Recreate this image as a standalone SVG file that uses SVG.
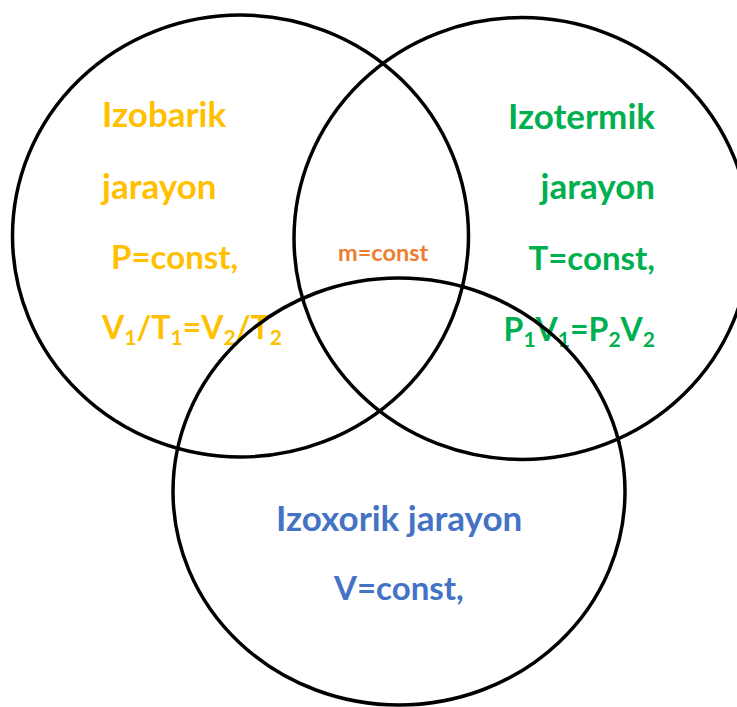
<svg xmlns="http://www.w3.org/2000/svg" width="737" height="707" viewBox="0 0 737 707">
<style>
.c{fill:none;stroke:#000;stroke-width:3.5}
.t{font-family:Lato,"Noto Sans",sans-serif;font-weight:bold;font-size:35px}
.m{font-size:33px}.f{font-size:32px}
.y{fill:#FFC000}.g{fill:#00B050}.b{fill:#4472C4}.o{fill:#ED7D31;font-size:23.5px}
.s{font-size:21px}
</style>
<rect width="737" height="707" fill="#fff"/>
<g id="izobarik">
<ellipse class="c" cx="240.5" cy="236" rx="228" ry="221"/>
<text class="t y" x="102" y="127">Izobarik</text>
<text class="t y" x="102" y="199">jarayon</text>
<text class="t m y" x="111" y="269">P=const,</text>
<text class="t f y" x="102" y="339">V<tspan class="s" dy="6">1</tspan><tspan dy="-6">/T</tspan><tspan class="s" dy="6">1</tspan><tspan dy="-6">=V</tspan><tspan class="s" dy="6">2</tspan><tspan dy="-6">/T</tspan><tspan class="s" dy="6">2</tspan></text>
</g>
<g id="izotermik">
<ellipse class="c" cx="522" cy="238.5" rx="228" ry="221"/>
<text class="t g" x="655" y="129" text-anchor="end">Izotermik</text>
<text class="t g" x="655" y="199" text-anchor="end">jarayon</text>
<text class="t m g" x="655" y="270" text-anchor="end">T=const,</text>
<text class="t f g" x="655" y="341" text-anchor="end">P<tspan class="s" dy="6">1</tspan><tspan dy="-6">V</tspan><tspan class="s" dy="6">1</tspan><tspan dy="-6">=P</tspan><tspan class="s" dy="6">2</tspan><tspan dy="-6">V</tspan><tspan class="s" dy="6">2</tspan></text>
</g>
<g id="izoxorik">
<ellipse class="c" cx="399" cy="491.5" rx="226" ry="213.5"/>
<text class="t b" x="276" y="531">Izoxorik jarayon</text>
<text class="t m b" x="334" y="600">V=const,</text>
</g>
<g id="center">
<text class="t o" x="338" y="261">m=const</text>
</g>
<g id="connectors"/>
</svg>
